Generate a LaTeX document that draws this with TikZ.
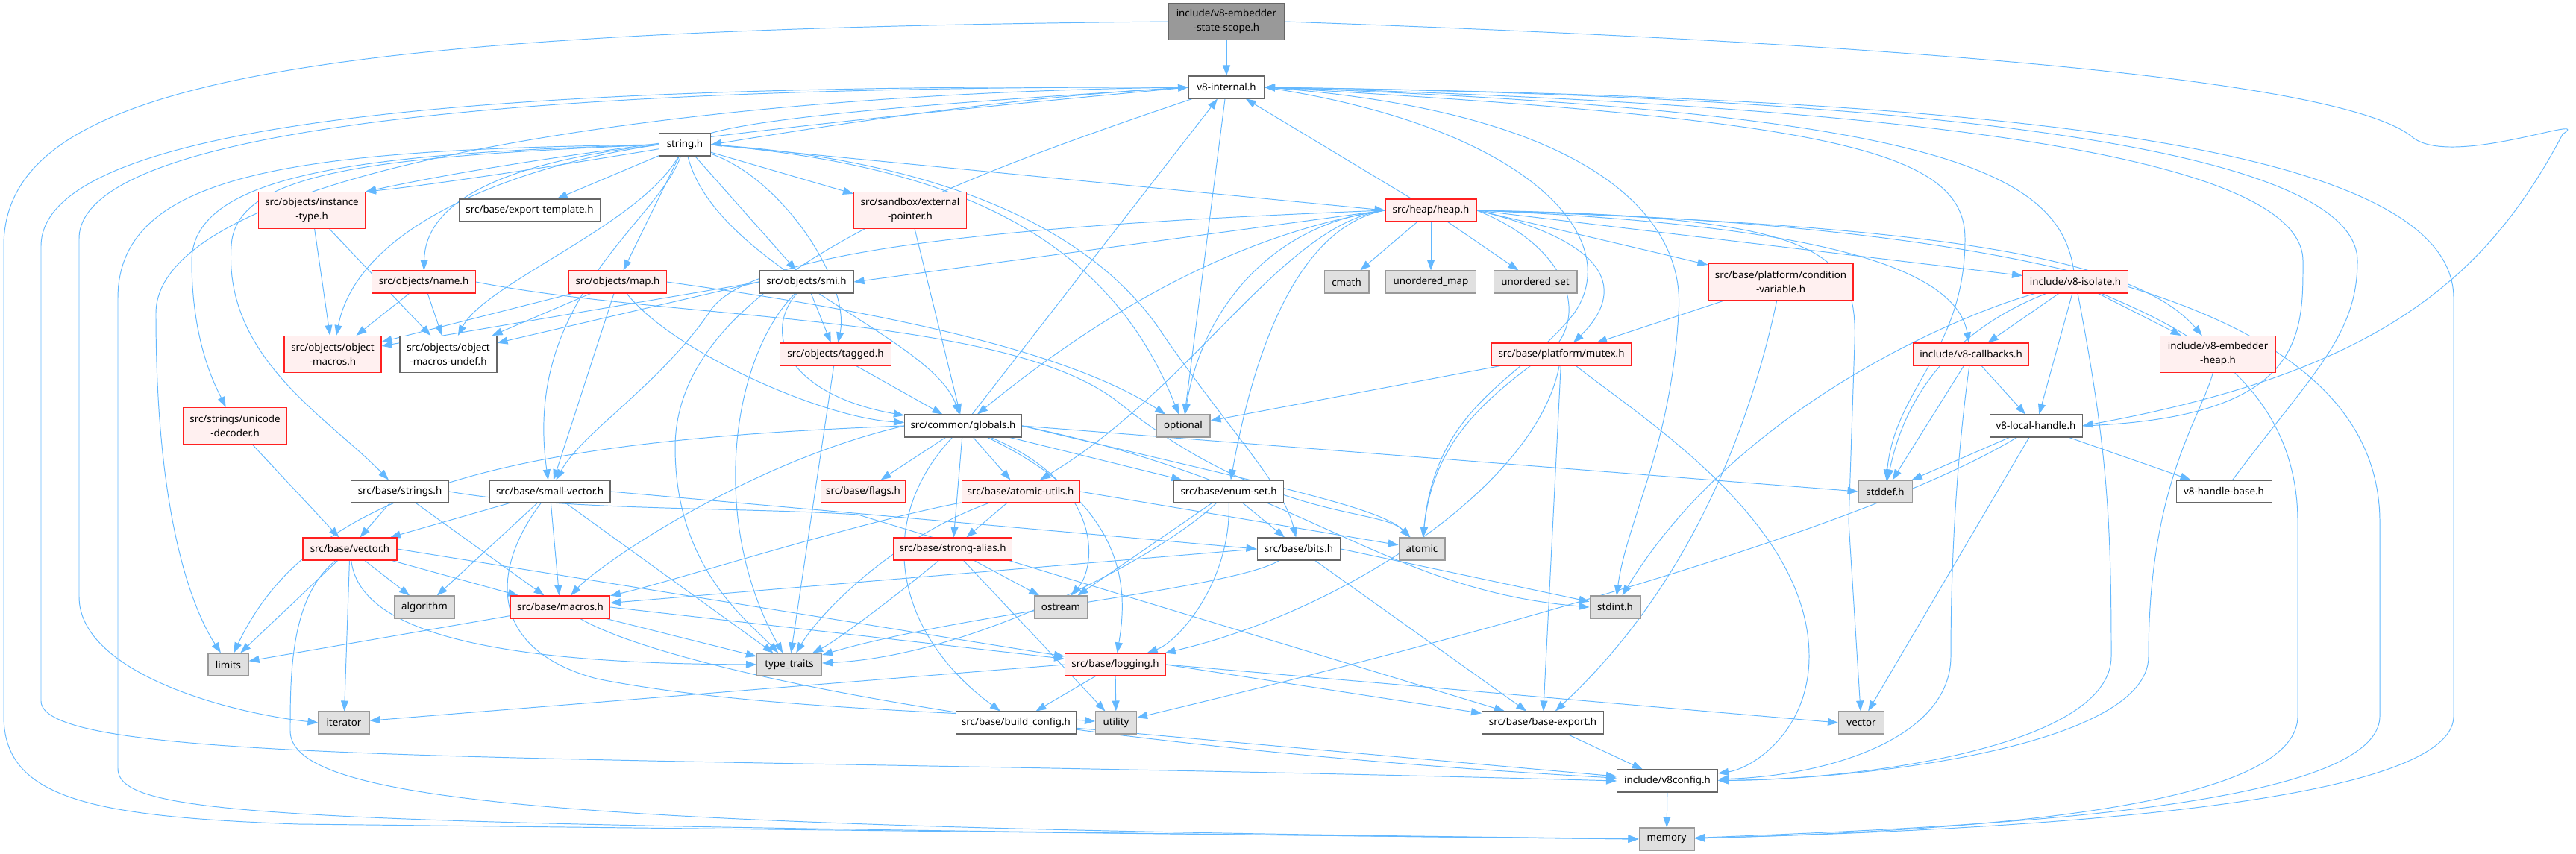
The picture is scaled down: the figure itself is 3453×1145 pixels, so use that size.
\documentclass[tikz,border=0pt]{standalone}
\usepackage{fontspec}
\setmainfont{Noto Sans}
\usepackage{tikz}
\usetikzlibrary{arrows.meta}
\pgfdeclarelayer{background}
\pgfsetlayers{background,main}
\definecolor{edgeblue}{HTML}{63B8FF}
\definecolor{truncred}{HTML}{FF2020}
\definecolor{truncfill}{HTML}{FFF0F0}
\definecolor{sysfill}{HTML}{E0E0E0}
\definecolor{sysdraw}{HTML}{999999}
\definecolor{filedraw}{HTML}{666666}
\definecolor{topfill}{HTML}{999999}

\begin{document}
\begin{tikzpicture}[
  x=0.02cm, y=-0.02cm,
  file/.style={draw=filedraw, fill=white, line width=0.6pt, align=center, inner sep=0pt,
    font=\fontsize{7.6}{10.8}\selectfont, minimum height=0.6cm},
  tall/.style={minimum height=0.98cm},
  trunc/.style={file, draw=truncred, fill=truncfill},
  sys/.style={file, draw=sysdraw, fill=sysfill},
  top/.style={file, fill=topfill, tall},
  edge/.style={draw=edgeblue, line width=0.55pt, -{Triangle[length=0.28cm,width=0.2cm]}}
]
\useasboundingbox (0,0) rectangle (3453,1145);

\node[top, minimum width=3.12cm] (root) at (1644,29) {include/v8-embedder\\-state-scope.h};
\node[file, minimum width=2.02cm] (v8internal) at (1644,117) {v8-internal.h};
\node[file, minimum width=1.38cm] (stringh) at (918,194) {string.h};

\node[trunc, tall, minimum width=2.86cm] (insttype) at (418,282) {src/objects/instance\\-type.h};
\node[file, minimum width=3.8cm] (exporttpl) at (710,282) {src/base/export-template.h};
\node[trunc, tall, minimum width=3.02cm] (extptr) at (1220,282) {src/sandbox/external\\-pointer.h};
\node[trunc, minimum width=2.44cm] (heap) at (1918,282) {src/heap/heap.h};

\node[trunc, minimum width=2.78cm] (name) at (568,378) {src/objects/name.h};
\node[trunc, minimum width=2.62cm] (map) at (828,378) {src/objects/map.h};
\node[file, minimum width=2.52cm] (smi) at (1081,378) {src/objects/smi.h};
\node[sys, minimum width=1.2cm] (cmath) at (1805,378) {cmath};
\node[sys, minimum width=2.42cm] (umap) at (1918,378) {unordered\_map};
\node[sys, minimum width=2.24cm] (uset) at (2058,378) {unordered\_set};
\node[trunc, tall, minimum width=3.88cm] (condvar) at (2387,378) {src/base/platform/condition\\-variable.h};
\node[trunc, minimum width=2.82cm] (isolate) at (2782,378) {include/v8-isolate.h};

\node[trunc, tall, minimum width=2.6cm] (objmacros) at (446,475) {src/objects/object\\-macros.h};
\node[file, tall, minimum width=2.6cm] (objundef) at (601,475) {src/objects/object\\-macros-undef.h};
\node[trunc, minimum width=2.98cm] (tagged) at (1120,475) {src/objects/tagged.h};
\node[trunc, minimum width=3.76cm] (mutex) at (2093,475) {src/base/platform/mutex.h};
\node[trunc, minimum width=3.1cm] (callbacks) at (2642,475) {include/v8-callbacks.h};
\node[trunc, tall, minimum width=3.1cm] (embheap) at (2973,475) {include/v8-embedder\\-heap.h};

\node[trunc, tall, minimum width=2.78cm] (unidec) at (315,571) {src/strings/unicode\\-decoder.h};
\node[file, minimum width=3.14cm] (globals) at (1291,571) {src/common/globals.h};
\node[sys, minimum width=1.44cm] (optional) at (1586,571) {optional};
\node[file, minimum width=2.48cm] (localhandle) at (2729,571) {v8-local-handle.h};

\node[file, minimum width=2.62cm] (strings) at (536,659) {src/base/strings.h};
\node[file, minimum width=3.24cm] (smallvec) at (737,659) {src/base/small-vector.h};
\node[trunc, minimum width=2.28cm] (flags) at (1157,659) {src/base/flags.h};
\node[trunc, minimum width=3.16cm] (atomicutils) at (1368,659) {src/base/atomic-utils.h};
\node[file, minimum width=2.94cm] (enumset) at (1647,659) {src/base/enum-set.h};
\node[sys, minimum width=1.44cm] (stddef) at (2527,659) {stddef.h};
\node[file, minimum width=2.56cm] (handlebase) at (2981,659) {v8-handle-base.h};

\node[trunc, minimum width=2.52cm] (vector) at (469,736) {src/base/vector.h};
\node[trunc, minimum width=3.18cm] (strongalias) at (1277,736) {src/base/strong-alias.h};
\node[file, minimum width=2.24cm] (bits) at (1741,736) {src/base/bits.h};
\node[sys, minimum width=1.24cm] (atomic) at (1906,736) {atomic};

\node[sys, minimum width=1.6cm] (algorithm) at (569,814) {algorithm};
\node[trunc, minimum width=2.66cm] (macros) at (751,814) {src/base/macros.h};
\node[sys, minimum width=1.44cm] (ostream) at (1422,814) {ostream};
\node[sys, minimum width=1.36cm] (stdint) at (2165,814) {stdint.h};

\node[sys, minimum width=1.08cm] (limits) at (306,891) {limits};
\node[sys, minimum width=1.74cm] (typetraits) at (1058,891) {type\_traits};
\node[trunc, minimum width=2.7cm] (logging) at (1495,891) {src/base/logging.h};

\node[sys, minimum width=1.36cm] (iterator) at (461,969) {iterator};
\node[file, minimum width=3.24cm] (buildcfg) at (1362,969) {src/base/build\_config.h};
\node[sys, minimum width=1.1cm] (utility) at (1496,969) {utility};
\node[file, minimum width=3.26cm] (baseexport) at (2068,969) {src/base/base-export.h};
\node[sys, minimum width=1.22cm] (vectorstd) at (2495,969) {vector};

\node[file, minimum width=2.7cm] (v8config) at (2235,1047) {include/v8config.h};
\node[sys, minimum width=1.48cm] (memory) at (2234,1125) {memory};

\begin{pgfonlayer}{background}
% root
\draw[edge] (root) -- (v8internal);
\draw[edge] (root.west) .. controls (400,40) and (5,110) .. (5,330) -- (5,960) .. controls (5,1070) and (120,1095) .. (400,1105) -- (memory.west);
\draw[edge] (root.east) .. controls (2600,60) and (3150,110) .. (3235,185) .. controls (3290,225) and (3480,150) .. (3435,180) .. controls (3330,380) and (3180,500) .. (localhandle.east);

% v8-internal.h
\draw[edge] (v8internal.west) .. controls (1350,130) and (1100,170) .. (stringh.east);
\draw[edge] (v8internal.west) .. controls (800,115) and (106,160) .. (106,320) -- (106,800) .. controls (106,900) and (300,955) .. (iterator.west);
\draw[edge] (v8internal.west) .. controls (750,112) and (55,150) .. (55,330) -- (55,940) .. controls (55,1030) and (800,1010) .. (v8config.west);
\draw[edge] (v8internal.west) .. controls (900,125) and (209,230) .. (209,420) .. controls (209,700) and (260,820) .. (limits);
\draw[edge] (v8internal.east) .. controls (2600,130) and (3289,180) .. (3289,400) -- (3289,960) .. controls (3289,1090) and (2600,1115) .. (memory);
\draw[edge] (v8internal) -- (optional);
\draw[edge] (v8internal) .. controls (1250,250) and (905,380) .. (905,600) .. controls (905,760) and (1000,830) .. (typetraits);
\draw[edge] (v8internal.east) .. controls (2050,170) and (2180,320) .. (2110,420) .. controls (2040,510) and (1925,540) .. (atomic);
\draw[edge] (v8internal.east) .. controls (2450,160) and (2634,200) .. (2634,320) .. controls (2634,470) and (2540,520) .. (stddef);
\draw[edge] (v8internal.east) .. controls (2150,150) and (2260,300) .. (2250,420) .. controls (2240,600) and (2180,700) .. (stdint);
\draw[edge] (v8internal.west) .. controls (1300,145) and (800,190) .. (insttype.north east);

% string.h
\draw[edge] (stringh.north east) .. controls (1050,150) and (1400,130) .. (v8internal.west);
\draw[edge] (stringh) .. controls (700,230) and (560,250) .. (insttype.north east);
\draw[edge] (stringh) -- (exporttpl);
\draw[edge] (stringh.west) .. controls (650,220) and (570,280) .. (name);
\draw[edge] (stringh) -- (map);
\draw[edge] (stringh) -- (smi);
\draw[edge] (stringh) .. controls (1050,240) and (1140,380) .. (tagged);
\draw[edge] (stringh) -- (extptr);
\draw[edge] (stringh.east) -- (heap.west);
\draw[edge] (stringh.west) .. controls (500,210) and (315,230) .. (310,330) .. controls (300,480) and (440,560) .. (strings);
\draw[edge] (stringh.west) .. controls (500,205) and (257,230) .. (257,350) .. controls (257,460) and (290,520) .. (unidec);
\draw[edge] (stringh) .. controls (880,300) and (700,400) .. (smallvec);
\draw[edge] (stringh) .. controls (960,360) and (1250,450) .. (globals);
\draw[edge] (stringh.west) .. controls (700,220) and (480,300) .. (objmacros);
\draw[edge] (stringh) .. controls (860,300) and (650,380) .. (objundef);
\draw[edge] (stringh.east) .. controls (1200,210) and (1450,280) .. (1560,450) .. controls (1650,580) and (1720,650) .. (bits);
\draw[edge] (stringh.east) .. controls (1250,220) and (1480,300) .. (optional);
\draw[edge] (stringh.west) .. controls (400,200) and (158,230) .. (158,400) -- (158,1030) .. controls (158,1100) and (400,1105) .. (memory.west);

% objects
\draw[edge] (insttype) -- (objmacros);
\draw[edge] (insttype) -- (objundef);
\draw[edge] (name) -- (objmacros);
\draw[edge] (name) -- (objundef);
\draw[edge] (name.east) .. controls (900,430) and (1350,420) .. (1500,540) .. controls (1700,700) and (1850,680) .. (atomic);
\draw[edge] (map) -- (objmacros);
\draw[edge] (map) -- (objundef);
\draw[edge] (map) -- (smallvec);
\draw[edge] (map) .. controls (900,470) and (1100,560) .. (globals);
\draw[edge] (map.east) .. controls (1050,400) and (1400,450) .. (optional);
\draw[edge] (smi) -- (tagged);
\draw[edge] (smi.west) -- (objmacros);
\draw[edge] (smi.west) -- (objundef);
\draw[edge] (smi) .. controls (1020,450) and (1060,530) .. (globals);
\draw[edge] (smi) .. controls (980,480) and (950,700) .. (typetraits);
\draw[edge] (tagged) -- (globals);
\draw[edge] (tagged) -- (typetraits);
\draw[edge] (extptr) -- (globals);

% heap.h
\draw[edge] (heap) -- (v8internal);
\draw[edge] (heap) -- (cmath);
\draw[edge] (heap) -- (umap);
\draw[edge] (heap) -- (uset);
\draw[edge] (heap.east) -- (condvar);
\draw[edge] (heap.east) .. controls (2180,330) and (2170,400) .. (mutex);
\draw[edge] (heap.east) -- (isolate);
\draw[edge] (heap.east) .. controls (2400,300) and (2620,350) .. (callbacks);
\draw[edge] (heap.east) .. controls (2500,300) and (2850,330) .. (embheap);
\draw[edge] (heap.east) .. controls (2700,300) and (3190,400) .. (3190,700) -- (3190,960) .. controls (3190,1090) and (2600,1110) .. (memory);
\draw[edge] (heap.east) .. controls (2450,290) and (2490,340) .. (2486,460) -- (2478,700) -- (vectorstd);
\draw[edge] (heap.west) -- (smi.east);
\draw[edge] (heap.west) .. controls (1400,300) and (1000,330) .. (950,420) .. controls (880,520) and (780,580) .. (smallvec);
\draw[edge] (heap.west) .. controls (1680,310) and (1500,400) .. (globals);
\draw[edge] (heap.west) .. controls (1700,300) and (1610,420) .. (optional);
\draw[edge] (heap.west) .. controls (1720,300) and (1600,520) .. (atomicutils);
\draw[edge] (heap.west) .. controls (1760,300) and (1690,420) .. (enumset);
\draw[edge] (heap.east) .. controls (2100,330) and (2130,420) .. (2080,470) .. controls (1980,540) and (1920,600) .. (atomic);

% platform
\draw[edge] (condvar) -- (mutex);
\draw[edge] (condvar) .. controls (2340,600) and (2250,800) .. (baseexport);
\draw[edge] (mutex) -- (optional);
\draw[edge] (mutex) -- (baseexport);
\draw[edge] (mutex) .. controls (2060,650) and (1800,820) .. (logging);
\draw[edge] (mutex) .. controls (2200,560) and (2425,700) .. (2425,880) .. controls (2425,980) and (2350,1030) .. (v8config);

% include/
\draw[edge] (isolate) .. controls (2760,230) and (2600,150) .. (v8internal.east);
\draw[edge] (isolate) -- (callbacks);
\draw[edge] (isolate) -- (embheap);
\draw[edge] (isolate) -- (localhandle);
\draw[edge] (isolate) .. controls (2900,430) and (3080,500) .. (3080,700) -- (3080,960) .. controls (3080,1090) and (2600,1115) .. (memory);
\draw[edge] (isolate) .. controls (2825,600) and (2830,700) .. (2830,880) .. controls (2830,1000) and (2500,1045) .. (v8config);
\draw[edge] (isolate) .. controls (2650,430) and (2560,500) .. (stddef);
\draw[edge] (isolate) .. controls (2600,430) and (2320,560) .. (stdint);
\draw[edge] (callbacks) -- (localhandle);
\draw[edge] (callbacks) -- (stddef);
\draw[edge] (callbacks) .. controls (2630,560) and (2615,700) .. (2615,880) .. controls (2615,990) and (2450,1040) .. (v8config);
\draw[edge] (embheap) .. controls (2950,560) and (2880,650) .. (2880,880) .. controls (2880,1000) and (2500,1045) .. (v8config);
\draw[edge] (localhandle) -- (stddef);
\draw[edge] (localhandle) -- (handlebase);
\draw[edge] (localhandle) -- (vectorstd);
\draw[edge] (localhandle) .. controls (2450,740) and (1700,920) .. (utility);
\draw[edge] (localhandle.east) .. controls (3090,560) and (3087,450) .. (3087,350) .. controls (3087,200) and (2500,140) .. (v8internal.east);
\draw[edge] (handlebase) .. controls (3100,500) and (3160,450) .. (3160,350) .. controls (3160,200) and (2600,130) .. (v8internal.east);

% globals.h
\draw[edge] (globals) -- (v8internal);
\draw[edge] (globals) -- (flags);
\draw[edge] (globals) -- (atomicutils);
\draw[edge] (globals) -- (strongalias);
\draw[edge] (globals) .. controls (1480,650) and (1470,760) .. (ostream);
\draw[edge] (globals) .. controls (1520,680) and (1510,800) .. (logging);
\draw[edge] (globals) -- (enumset);
\draw[edge] (globals.east) .. controls (1700,650) and (1850,680) .. (atomic);
\draw[edge] (globals.east) .. controls (1750,650) and (1850,790) .. (stdint.west);
\draw[edge] (globals.east) -- (stddef.west);
\draw[edge] (globals.west) .. controls (700,590) and (420,650) .. (limits);
\draw[edge] (globals.west) .. controls (1000,620) and (800,760) .. (macros);
\draw[edge] (globals) .. controls (1170,700) and (1200,850) .. (buildcfg);

% src/base
\draw[edge] (atomicutils) -- (strongalias);
\draw[edge] (atomicutils.east) -- (atomic);
\draw[edge] (atomicutils) .. controls (1150,700) and (900,780) .. (macros);
\draw[edge] (atomicutils) .. controls (1200,720) and (1100,820) .. (typetraits);
\draw[edge] (strongalias) -- (ostream);
\draw[edge] (strongalias) -- (utility);
\draw[edge] (strongalias) .. controls (1200,800) and (1120,860) .. (typetraits);
\draw[edge] (enumset) -- (bits);
\draw[edge] (enumset) -- (ostream);
\draw[edge] (enumset) .. controls (1650,780) and (1580,860) .. (logging);
\draw[edge] (enumset) .. controls (1550,750) and (1300,880) .. (typetraits);
\draw[edge] (bits.east) -- (stdint);
\draw[edge] (bits) -- (baseexport);
\draw[edge] (bits.west) -- (macros);
\draw[edge] (bits) .. controls (1650,790) and (1300,820) .. (typetraits);
\draw[edge] (strings) -- (vector);
\draw[edge] (strings) -- (macros);
\draw[edge] (strings.east) .. controls (750,685) and (1000,680) .. (1150,690) -- (baseexport);
\draw[edge] (smallvec) -- (vector);
\draw[edge] (smallvec) -- (algorithm);
\draw[edge] (smallvec) -- (macros);
\draw[edge] (smallvec) -- (typetraits);
\draw[edge] (smallvec.east) -- (bits.west);
\draw[edge] (smallvec) .. controls (660,760) and (650,870) .. (800,910) .. controls (1000,950) and (1300,955) .. (utility);
\draw[edge] (unidec) -- (vector);
\draw[edge] (vector) -- (limits);
\draw[edge] (vector) -- (algorithm);
\draw[edge] (vector) -- (macros);
\draw[edge] (vector) -- (iterator);
\draw[edge] (vector) .. controls (480,830) and (600,890) .. (typetraits);
\draw[edge] (vector) .. controls (390,800) and (389,900) .. (389,980) .. controls (389,1080) and (800,1110) .. (memory);
\draw[edge] (vector.east) -- (logging);
\draw[edge] (macros) -- (limits);
\draw[edge] (macros) -- (typetraits);
\draw[edge] (macros.east) -- (logging);
\draw[edge] (macros) .. controls (900,900) and (1400,1000) .. (v8config);
\draw[edge] (logging) -- (buildcfg);
\draw[edge] (logging) -- (utility);
\draw[edge] (logging.east) -- (baseexport);
\draw[edge] (logging.east) -- (vectorstd.west);
\draw[edge] (logging.west) -- (iterator);
\draw[edge] (buildcfg) -- (v8config);
\draw[edge] (baseexport) -- (v8config);
\draw[edge] (v8config) -- (memory);
\end{pgfonlayer}
\end{tikzpicture}
\end{document}
